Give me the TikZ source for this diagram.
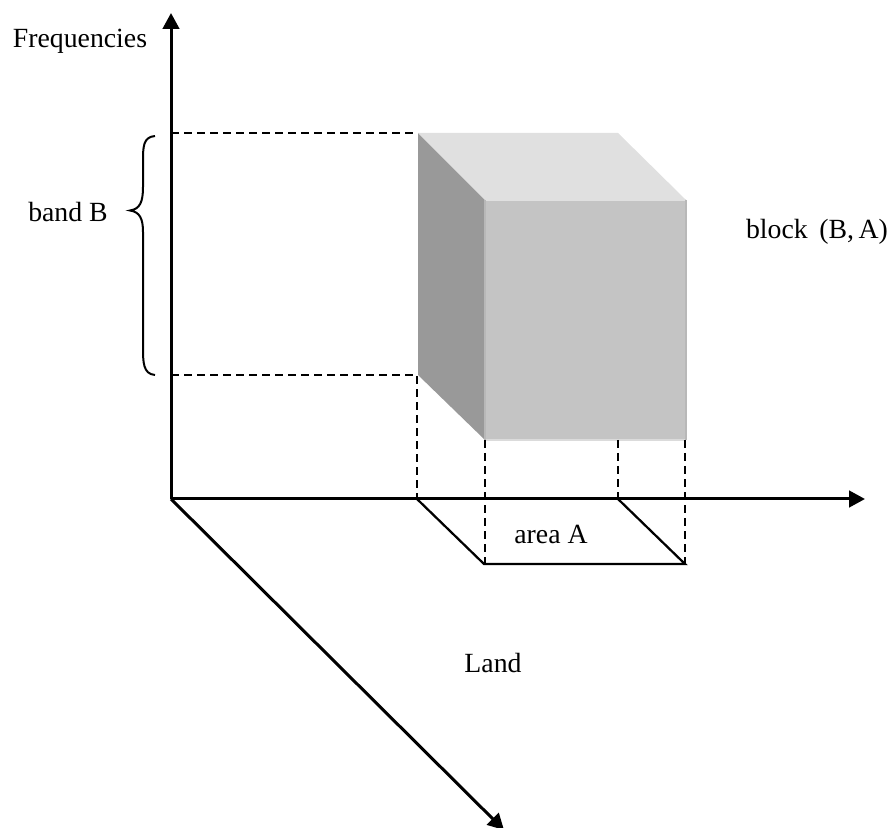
\documentclass[tikz,border=0pt]{standalone}
\usepackage{fontspec}
\setmainfont{Liberation Serif}
\usetikzlibrary{arrows.meta}
\tikzset{
	axis/.style={line width=0.06cm, -{Triangle[length=0.32cm,width=0.33cm]}},
	guide/.style={line width=0.04cm, dash pattern=on 0.16cm off 0.1cm},
	footprint/.style={line width=0.045cm, line cap=round},
	label/.style={inner sep=0, font=\fontsize{15.8pt}{18pt}\selectfont}
}

\begin{document}
\begin{tikzpicture}
		\useasboundingbox (0, 0) rectangle (17.88, 16.54);
		
		\coordinate (o) at (3.42, 6.56);
		\coordinate (f) at (3.42, 16.28);
		\coordinate (x) at (17.30, 6.56);
		\coordinate (l) at (10.08, -0.06);
		
		\coordinate (t1) at (3.42, 13.88);
		\coordinate (t2) at (3.42, 9.04);
		
		\coordinate (b1) at (8.36, 13.88);
		\coordinate (b2) at (12.36, 13.88);
		\coordinate (b3) at (8.36, 9.04);
		\coordinate (c1) at (9.70, 12.54);
		\coordinate (c2) at (13.72, 12.54);
		\coordinate (c3) at (9.70, 7.74);
		\coordinate (c4) at (13.72, 7.74);
		\coordinate (c5) at (12.36, 7.74);
		
		\coordinate (a1) at (8.34, 6.56);
		\coordinate (a2) at (12.36, 6.56);
		\coordinate (a3) at (13.70, 5.26);
		\coordinate (a4) at (9.68, 5.26);
		\coordinate (a5) at (9.70, 5.26);
		\coordinate (b4) at (8.34, 9.04);
		\coordinate (c6) at (13.70, 7.74);
		
		% block faces
		\fill[black!40] (b1) -- (c1) -- (c3) -- (b3) -- cycle;
		\fill[black!12] (b1) -- (b2) -- (c2) -- (c1) -- cycle;
		\fill[black!23] (c1) rectangle (c4);
		\draw[black!12, line width=0.05cm] (c1) -- (c2);
		\draw[black!14, line width=0.05cm] (c3) -- (c4);
		\draw[black!28, line width=0.05cm] (c1) -- (c3);
		\draw[black!28, line width=0.05cm] (c2) -- (c4);
		
		\draw[guide] (t1) -- (b1);
		\draw[guide] (t2) -- (b4) -- (a1);
		\draw[guide] (c3) -- (a5);
		\draw[guide] (c5) -- (a2);
		\draw[guide] (c6) -- (a3);
		
		\draw[footprint] (a1) -- (a4) -- (a3) -- (a2);
		
		\draw[axis] (o) -- (f);
		\draw[axis] (o) -- (x);
		\draw[axis] (o) -- (l);
		
		\coordinate (k1) at (3.10, 13.82);
		\coordinate (k2) at (2.60, 12.33);
		\coordinate (k3) at (3.10, 9.04);
		\draw[line width=0.04cm] (k1) .. controls (2.86, 13.80) and (2.86, 13.60) .. (2.86, 13.30)
			-- (2.86, 12.80) .. controls (2.86, 12.50) and (2.80, 12.36) .. (k2)
			.. controls (2.80, 12.30) and (2.86, 12.16) .. (2.86, 11.90)
			-- (2.86, 9.60) .. controls (2.86, 9.30) and (2.86, 9.06) .. (k3);
		
		\node[label] (0) at (1.60, 15.72) {Frequencies};
		\node[label] (1) at (1.36, 12.30) {band B};
		\node[label] (2) at (11.02, 5.86) {area A};
		\node[label] (3) at (9.86, 3.28) {Land};
		\node[label] (4) at (16.34, 11.90) {block\ \,(B,\,A)};
	\end{tikzpicture}
\end{document}
